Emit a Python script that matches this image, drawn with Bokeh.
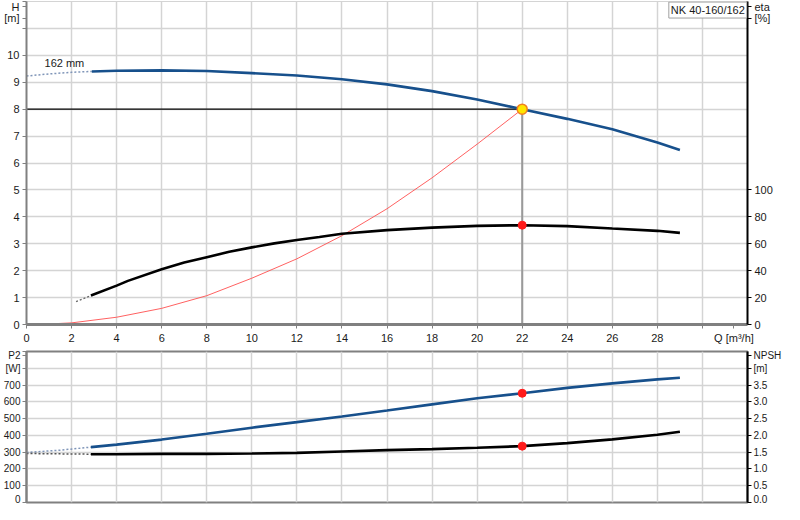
from bokeh.plotting import figure
from bokeh.models import Range1d, LinearAxis, FixedTicker, Label, NumeralTickFormatter
from bokeh.layouts import column
from bokeh.embed import file_html
from bokeh.resources import INLINE

# ---------------- data ----------------
q_h = [2.9, 4, 6, 8, 10, 12, 14, 16, 18, 20, 22, 24, 26, 28, 29]
h_vals = [9.40, 9.43, 9.44, 9.42, 9.34, 9.25, 9.11, 8.92, 8.67, 8.36, 8.00, 7.64, 7.25, 6.76, 6.48]
q_h_ext = [0, 1, 2, 2.9]
h_ext = [9.23, 9.31, 9.37, 9.40]

q_eta = [2.86, 4, 4.5, 6, 7, 8, 9, 10, 11, 12, 13, 14, 16, 18, 20, 22, 24, 26, 28, 29]
eta_vals = [21.5, 28.9, 32.4, 41.0, 46.0, 50.0, 54.0, 57.3, 60.3, 62.8, 65.0, 67.4, 70.1, 72.0, 73.3, 73.8, 73.1, 71.3, 69.6, 68.1]
q_eta_ext = [2.2, 2.86]
eta_ext = [17.0, 21.5]

q_sys = [0, 1, 2, 4, 6, 8, 10, 12, 14, 16, 18, 20, 22]
h_sys = [0.0, 0.02, 0.06, 0.27, 0.60, 1.07, 1.72, 2.44, 3.30, 4.30, 5.45, 6.70, 8.00]

q_p2 = [2.86, 4, 6, 8, 10, 12, 14, 16, 18, 20, 22, 24, 26, 28, 29]
p2_vals = [330, 345, 375, 410, 446, 479, 513, 548, 585, 621, 651, 683, 710, 734, 744]
q_p2_ext = [0, 1.5, 2.86]
p2_ext = [298, 312, 330]

q_npsh = [2.86, 4, 6, 8, 10, 12, 14, 16, 18, 20, 22, 24, 26, 28, 29]
npsh_vals = [1.44, 1.44, 1.45, 1.45, 1.46, 1.48, 1.52, 1.56, 1.59, 1.63, 1.68, 1.77, 1.88, 2.02, 2.11]
q_npsh_ext = [0, 2.86]
npsh_ext = [1.46, 1.44]

duty_q = 22
duty_h = 8.0
duty_eta = 73.8
duty_p2 = 651
duty_npsh = 1.68

x_ticks = list(range(0, 31, 2))
h_ticks = list(range(0, 13))
eta_ticks = [0, 20, 40, 60, 80, 100]
p2_ticks = list(range(0, 901, 100))
npsh_ticks = [0, 0.5, 1.0, 1.5, 2.0, 2.5, 3.0, 3.5, 4.0]

# header texts placed as extra tick labels
q_unit_pos = 31.4
h_unit_pos, h_name_pos = 11.38, 11.82
eta_unit_pos, eta_name_pos = 227.6, 236.4
p2_name_pos = 875
npsh_name_pos = 4.375

pump_name = "NK 40-160/162"
impeller = "162 mm"

FONT = "Liberation Sans"
BLUE = "#17508c"
GRID = "#d4d4d4"
AXG = "#808080"
TXT = "#1a1a1a"


def style_axis(ax, color, width, size="11px", standoff=3):
    ax.axis_line_color = color
    ax.axis_line_width = width
    ax.major_tick_line_color = color
    ax.major_tick_in = 0
    ax.major_tick_out = 4
    ax.minor_tick_line_color = None
    ax.major_label_standoff = standoff
    ax.major_label_text_font = FONT
    ax.major_label_text_font_size = size
    ax.major_label_text_color = TXT


# ---------------- top chart ----------------
p1 = figure(width=784, height=346, x_range=Range1d(0, 32), y_range=Range1d(0, 12),
            output_backend="svg", toolbar_location=None,
            min_border_left=26, min_border_right=37, min_border_top=1, min_border_bottom=22)
p1.extra_y_ranges = {"eta": Range1d(0, 240)}
p1.outline_line_color = GRID
p1.background_fill_color = "white"

p1.xaxis.ticker = FixedTicker(ticks=x_ticks + [q_unit_pos])
p1.xaxis.major_label_overrides = {30: "", q_unit_pos: "Q [m³/h]"}
style_axis(p1.xaxis[0], AXG, 3)
p1.yaxis.ticker = FixedTicker(ticks=h_ticks + [h_unit_pos, h_name_pos])
p1.yaxis.major_label_overrides = {11: "", 12: "", h_unit_pos: "[m]", h_name_pos: "H"}
style_axis(p1.yaxis[0], AXG, 2)

eta_axis = LinearAxis(y_range_name="eta", ticker=FixedTicker(ticks=eta_ticks + [eta_unit_pos, eta_name_pos]))
eta_axis.major_label_overrides = {eta_unit_pos: "[%]", eta_name_pos: "eta"}
style_axis(eta_axis, "black", 2)
p1.add_layout(eta_axis, "right")

p1.xgrid.ticker = FixedTicker(ticks=x_ticks)
p1.ygrid.ticker = FixedTicker(ticks=h_ticks)
for g in (p1.xgrid[0], p1.ygrid[0]):
    g.grid_line_color = GRID
    g.grid_line_width = 1.5

# duty lines
p1.line([0, duty_q], [duty_h, duty_h], line_color="black", line_width=1.2)
p1.line([duty_q, duty_q], [0, duty_h], line_color="#9a9a9a", line_width=2)

# system curve
p1.line(q_sys, h_sys, line_color="#ff5050", line_width=1, line_alpha=0.9)

# eta curve
p1.line(q_eta_ext, eta_ext, y_range_name="eta", line_color="#666666", line_width=1.2, line_dash="2 2")
p1.line(q_eta, eta_vals, y_range_name="eta", line_color="black", line_width=2.6)

# H curve
p1.line(q_h_ext, h_ext, line_color="#7f95b8", line_width=1.5, line_dash="2 2")
p1.line(q_h, h_vals, line_color=BLUE, line_width=2.6)

# duty points
p1.scatter([duty_q], [duty_eta], y_range_name="eta", size=8, fill_color="#ff1a1a", line_color="#ff1a1a")
p1.scatter([duty_q], [duty_h], size=10, fill_color="#ffe600", line_color="#f08020", line_width=1.5)

p1.add_layout(Label(x=0.8, y=9.72, text=impeller, text_align="left", text_baseline="middle",
                    text_font=FONT, text_font_size="11px", text_color=TXT))

# legend box with a soft shadow
p1.add_layout(Label(x=31.97, y=11.98, x_offset=2, y_offset=-2, text=pump_name,
                    text_align="right", text_baseline="top",
                    text_font=FONT, text_font_size="11px", text_alpha=0,
                    background_fill_color="#c4c4c4", border_line_color=None, padding=2))
p1.add_layout(Label(x=31.97, y=11.98, text=pump_name, text_align="right", text_baseline="top",
                    text_font=FONT, text_font_size="11px", text_color=TXT,
                    background_fill_color="white", border_line_color="#a0a0a0",
                    border_line_width=1, padding=2))

# ---------------- bottom chart ----------------
p2 = figure(width=784, height=158, x_range=p1.x_range, y_range=Range1d(0, 900),
            output_backend="svg", toolbar_location=None,
            min_border_left=26, min_border_right=37, min_border_top=5, min_border_bottom=2)
p2.extra_y_ranges = {"npsh": Range1d(0, 4.5)}
p2.outline_line_color = AXG
p2.outline_line_width = 2
p2.xaxis.visible = False

p2.yaxis.ticker = FixedTicker(ticks=p2_ticks + [p2_name_pos])
p2.yaxis.major_label_overrides = {800: "[W]", 900: "", p2_name_pos: "P2"}
style_axis(p2.yaxis[0], AXG, 2, size="10px", standoff=2)

npsh_axis = LinearAxis(y_range_name="npsh", ticker=FixedTicker(ticks=npsh_ticks + [npsh_name_pos]),
                       formatter=NumeralTickFormatter(format="0.0"))
npsh_axis.major_label_overrides = {4: "[m]", npsh_name_pos: "NPSH"}
style_axis(npsh_axis, "black", 2, size="10px", standoff=2)
p2.add_layout(npsh_axis, "right")

p2.xgrid.ticker = FixedTicker(ticks=x_ticks)
p2.ygrid.ticker = FixedTicker(ticks=p2_ticks)
for g in (p2.xgrid[0], p2.ygrid[0]):
    g.grid_line_color = GRID
    g.grid_line_width = 1.5

p2.line(q_p2_ext, p2_ext, line_color="#7f95b8", line_width=1.5, line_dash="2 2")
p2.line(q_p2, p2_vals, line_color=BLUE, line_width=2.6)
p2.line(q_npsh_ext, npsh_ext, y_range_name="npsh", line_color="#555555", line_width=1.5, line_dash="2 2")
p2.line(q_npsh, npsh_vals, y_range_name="npsh", line_color="black", line_width=2.6)

p2.scatter([duty_q], [duty_p2], size=8, fill_color="#ff1a1a", line_color="#ff1a1a")
p2.scatter([duty_q], [duty_npsh], y_range_name="npsh", size=8, fill_color="#ff1a1a", line_color="#ff1a1a")

layout = column(p1, p2, spacing=0)
open("out.html", "w").write(file_html(layout, INLINE))
